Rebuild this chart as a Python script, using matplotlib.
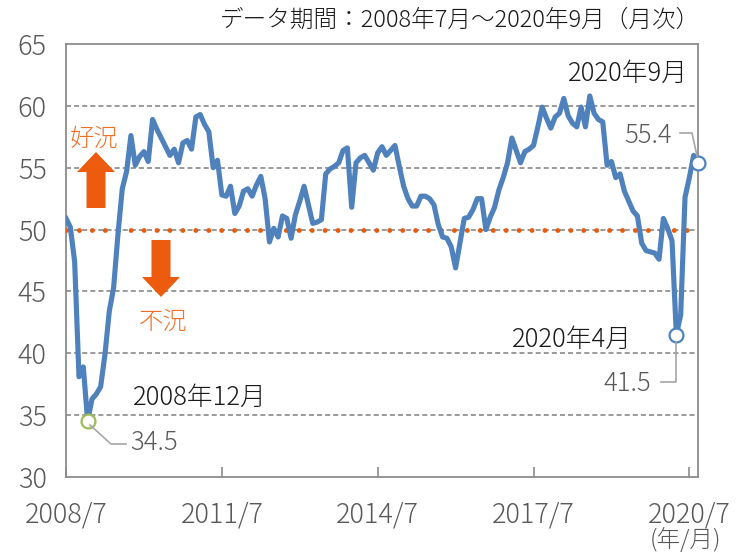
import matplotlib
matplotlib.use("Agg")
import matplotlib.pyplot as plt
from matplotlib.patches import Polygon
from matplotlib.lines import Line2D
import numpy as np
import pandas as pd

plt.rcParams["font.family"] = ["Noto Sans CJK JP", "DejaVu Sans"]
plt.rcParams["font.weight"] = "light"

# monthly index values, 2008/7 .. 2020/9
months = pd.period_range("2008-07", "2020-09", freq="M")
values = [
    50.9, 50.2, 47.4, 38.1, 38.9, 34.5, 36.3, 36.7, 37.3, 39.9, 43.4, 45.3,
    49.6, 53.3, 54.7, 57.6, 55.2, 55.9, 56.3, 55.5, 58.9, 58.1, 57.4, 56.7,
    56.0, 56.5, 55.4, 57.0, 57.2, 56.5, 59.1, 59.3, 58.5, 57.9, 55.0, 55.6,
    52.8, 52.7, 53.5, 51.3, 51.9, 53.1, 53.3, 52.7, 53.6, 54.3, 52.5, 49.0,
    50.1, 49.4, 51.1, 50.9, 49.3, 51.2, 52.3, 53.5, 52.0, 50.5, 50.6, 50.8,
    54.5, 54.9, 55.1, 55.4, 56.4, 56.6, 51.8, 55.4, 55.8, 56.0, 55.4, 54.8,
    56.2, 56.7, 56.0, 56.4, 56.8, 55.1, 53.5, 52.5, 51.9, 51.9, 52.7, 52.7,
    52.5, 52.0, 50.4, 49.4, 49.3, 48.6, 46.9, 48.9, 50.9, 51.0, 51.6, 52.5,
    52.5, 50.0, 51.0, 51.8, 53.2, 54.2, 55.4, 57.4, 56.4, 55.4, 56.3, 56.5,
    56.8, 58.3, 59.9, 59.0, 58.2, 59.1, 59.4, 60.6, 59.2, 58.6, 58.3, 59.9,
    58.3, 60.8, 59.4, 58.9, 58.7, 55.2, 55.5, 54.2, 54.5, 53.1, 52.3, 51.5,
    51.1, 48.9, 48.3, 48.2, 48.1, 47.6, 50.9, 50.1, 49.1, 41.5, 43.1, 52.6,
    54.2, 56.0, 55.4,
]
tick_months = ["2008-07", "2011-07", "2014-07", "2017-07", "2020-07"]
tick_labels = ["2008/7", "2011/7", "2014/7", "2017/7", "2020/7"]
y_ticks = [30, 35, 40, 45, 50, 55, 60, 65]
threshold = 50

callouts = [
    ("2008-12", "#9BBB59", "2008年12月"),
    ("2020-04", "#4F81BD", "2020年4月"),
    ("2020-09", "#4F81BD", "2020年9月"),
]

W, H = 744, 553
fig = plt.figure(figsize=(W / 100, H / 100), dpi=100)
ax = fig.add_axes([66 / W, 76 / H, 632 / W, 433 / H])

x = np.arange(len(values))
ax.plot(x, values, color="#4F81BD", lw=3.7, solid_joinstyle="round", zorder=4)

ax.set_xlim(0, len(values) - 1)
ax.set_ylim(30, 65)
ax.set_yticks(y_ticks)
pos = [months.get_loc(pd.Period(m, "M")) for m in tick_months]
ax.set_xticks(pos)
ax.set_xticklabels(tick_labels)

grey_txt = "#595959"
ax.tick_params(axis="x", direction="in", length=7, width=1.2, color="#8c8c8c",
               pad=17, labelsize=19.5, labelcolor=grey_txt)
ax.tick_params(axis="y", length=0, pad=14, labelsize=19.5, labelcolor=grey_txt)
for s in ax.spines.values():
    s.set_color("#8c8c8c")
    s.set_linewidth(1.3)

for v in y_ticks[1:-1]:
    ax.axhline(v, color="#7f7f7f", lw=1.1, ls=(0, (3.3, 2.0)), zorder=1)
ax.axhline(threshold, color="#EA5A0C", lw=3.5, ls=(0, (0.01, 2.65)),
           dash_capstyle="round", zorder=3)

# highlighted points
for m, c, _ in callouts:
    i = months.get_loc(pd.Period(m, "M"))
    ax.plot([i], [values[i]], "o", mfc="white", mec=c, ms=10, mew=1.6,
            clip_on=False, zorder=6)


def fxy(px, py):
    return px / W, 1 - py / H


def ftext(px, py, s, **kw):
    fig.text(*fxy(px, py), s, **kw)


def leader(pts):
    xs, ys = zip(*[fxy(*p) for p in pts])
    fig.add_artist(Line2D(xs, ys, color="#a6a6a6", lw=1.2, zorder=5))


def block_arrow(cx, tail, tip, body=19, head=38, head_len=20, color="#EC5B0E"):
    s = 1 if tip > tail else -1
    neck = tip - s * head_len
    pts = [(cx - body / 2, tail), (cx + body / 2, tail), (cx + body / 2, neck),
           (cx + head / 2, neck), (cx, tip), (cx - head / 2, neck),
           (cx - body / 2, neck)]
    fig.add_artist(Polygon([fxy(*p) for p in pts], closed=True,
                           transform=fig.transFigure, color=color, lw=0))


# good / bad markers
orange_txt = "#F07028"
ftext(94, 139, "好況", ha="center", va="center", fontsize=17.5, color=orange_txt)
block_arrow(96, 208, 152)
block_arrow(161, 240, 297)
ftext(163, 322, "不況", ha="center", va="center", fontsize=17.5, color=orange_txt)

# callout labels
lab = dict(va="center", fontsize=18.5, color="#1a1a1a")
num = dict(va="center", fontsize=18.5, color=grey_txt)
ftext(133, 398, callouts[0][2], ha="left", **lab)
ftext(130, 443, f"{values[5]:.1f}", ha="left", **num)
leader([(90, 425), (111, 444), (126, 444)])

ftext(632, 340, callouts[1][2], ha="right", **lab)
ftext(651, 384, f"{values[141]:.1f}", ha="right", **num)
leader([(676, 343), (676, 382), (661, 382)])

ftext(688, 74, callouts[2][2], ha="right", **lab)
ftext(672, 136, f"{values[-1]:.1f}", ha="right", **num)
leader([(680, 133), (692, 133), (697, 156)])

ftext(700, 20, "データ期間：2008年7月～2020年9月（月次）", ha="right", va="center",
      fontsize=17, color="#1a1a1a")
ftext(685, 540, "(年/月)", ha="center", va="center", fontsize=17, color=grey_txt)

fig.savefig("out.png", dpi=100)
